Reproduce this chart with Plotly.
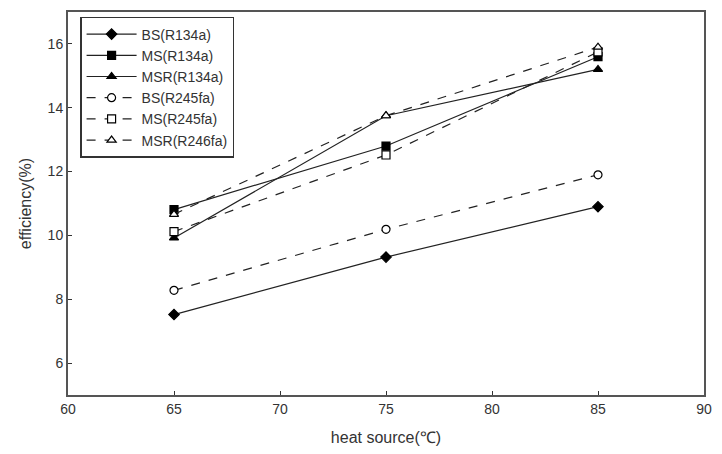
import plotly.graph_objects as go

heat_source = [65, 75, 85]
bs_r134a = [7.52, 9.32, 10.9]
ms_r134a = [10.81, 12.8, 15.6]
msr_r134a = [9.92, 13.75, 15.2]
bs_r245fa = [8.28, 10.19, 11.9]
ms_r245fa = [10.12, 12.52, 15.75]
msr_r245fa = [10.66, 13.75, 15.9]

series = [
    ("BS(R134a)", bs_r134a, "solid", "diamond", "black", 8),
    ("MS(R134a)", ms_r134a, "solid", "square", "black", 8),
    ("MSR(R134a)", msr_r134a, "solid", "triangle-up", "black", 8),
    ("BS(R245fa)", bs_r245fa, "dash", "circle", "white", 8),
    ("MS(R245fa)", ms_r245fa, "dash", "square", "white", 8),
    ("MSR(R246fa)", msr_r245fa, "dash", "triangle-up", "white", 8),
]

fig = go.Figure()
for name, ys, dash, sym, fill, size in series:
    fig.add_trace(go.Scatter(
        x=heat_source, y=ys, name=name, mode="lines+markers",
        line=dict(color="#222", width=1.2, dash=dash),
        marker=dict(symbol=sym, size=size, color=fill,
                    line=dict(color="black", width=1.2)),
    ))

fam = "Liberation Sans, Arial, sans-serif"
font = dict(family=fam, size=14, color="#333")
axis_common = dict(
    showline=True, linecolor="#555", linewidth=2, mirror=True,
    ticks="inside", ticklen=4, tickcolor="#333", tickwidth=1,
    showgrid=False, zeroline=False, tickfont=font,
)
fig.update_xaxes(range=[60, 90], dtick=5, tick0=60,
                 title=dict(text="heat source(℃)", font=dict(family=fam, size=16, color="#333"), standoff=16),
                 **axis_common)
fig.update_yaxes(range=[5, 17], tickvals=[6, 8, 10, 12, 14, 16],
                 title=dict(text="efficiency(%)", font=dict(family=fam, size=16, color="#333"), standoff=12),
                 **axis_common)
fig.update_layout(
    width=722, height=454,
    margin=dict(l=68, r=15, t=10, b=56),
    plot_bgcolor="white", paper_bgcolor="white",
    font=font,
    legend=dict(x=0.019, y=0.987, xanchor="left", yanchor="top",
                bordercolor="#333", borderwidth=1.5, bgcolor="white",
                font=dict(family=fam, size=14, color="#333"),
                tracegroupgap=0, itemwidth=50),
    showlegend=True,
)
fig.write_html("out.html")
